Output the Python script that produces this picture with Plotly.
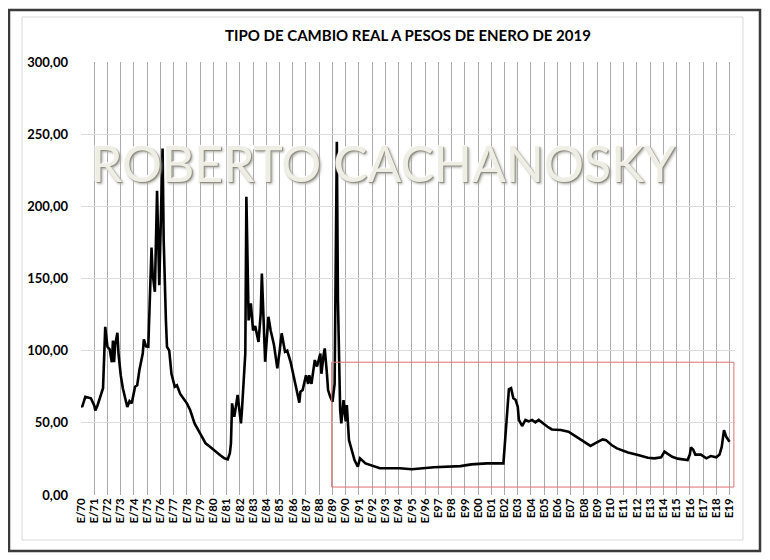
import plotly.graph_objects as go

# ---- data ----
dates = [
    "1970-01", "1970-02", "1970-05", "1970-10", "1971-01", "1971-02", "1971-04", "1971-07", "1971-09", "1971-11",
    "1972-01", "1972-03", "1972-05", "1972-06", "1972-07", "1972-08", "1972-10", "1972-11",
    "1973-01", "1973-03", "1973-05", "1973-07", "1973-09", "1973-11",
    "1974-02", "1974-04", "1974-06", "1974-09", "1974-10", "1974-12",
    "1975-02", "1975-05", "1975-06", "1975-08", "1975-10", "1975-12",
    "1976-03", "1976-04", "1976-06", "1976-07", "1976-09", "1976-11",
    "1977-02", "1977-04", "1977-07", "1977-11",
    "1978-01", "1978-04", "1978-08", "1979-01", "1979-06", "1979-10",
    "1980-03", "1980-07", "1980-11", "1981-02", "1981-04", "1981-05", "1981-06", "1981-08", "1981-09", "1981-11",
    "1982-02", "1982-03", "1982-06", "1982-07", "1982-09", "1982-11",
    "1983-01", "1983-03", "1983-06", "1983-08", "1983-09", "1983-12",
    "1984-03", "1984-05", "1984-08", "1984-11",
    "1985-01", "1985-03", "1985-06", "1985-08", "1985-11",
    "1986-02", "1986-05", "1986-07", "1986-08", "1986-10",
    "1987-01", "1987-03", "1987-04", "1987-06", "1987-09", "1987-11",
    "1988-02", "1988-03", "1988-05", "1988-06", "1988-08", "1988-09", "1988-11",
    "1989-01", "1989-03", "1989-05", "1989-06", "1989-08", "1989-09", "1989-11",
    "1990-01", "1990-02", "1990-04", "1990-07", "1990-09", "1990-12",
    "1991-02", "1991-07", "1992-03", "1992-08", "1994-02", "1995-01", "1996-09", "1998-09", "1999-07", "2000-09",
    "2001-12", "2002-02", "2002-05", "2002-07", "2002-09", "2002-11",
    "2003-01", "2003-02", "2003-05", "2003-08", "2003-11",
    "2004-02", "2004-05", "2004-08", "2004-11", "2005-04", "2005-08",
    "2006-04", "2006-11", "2007-04", "2007-10", "2008-03", "2008-07", "2008-11",
    "2009-06", "2009-09", "2010-02", "2010-07", "2011-05", "2012-02", "2012-11",
    "2013-05", "2013-11", "2014-02", "2014-05", "2014-09", "2015-02", "2015-11",
    "2016-01", "2016-02", "2016-04", "2016-06", "2016-11", "2017-04", "2017-08",
    "2018-01", "2018-04", "2018-06", "2018-08", "2018-10", "2019-01",
]
tcr = [
    62, 61, 68, 67, 62, 58.5, 62, 69, 74, 116.5,
    102.7, 101, 92, 107, 92, 104, 112.4, 98,
    83, 74, 68, 61, 65, 63.5,
    75, 76, 86.6, 98, 107.8, 103,
    102.7, 171.5, 153.5, 140.8, 210.7, 145.4,
    240, 176.6, 121, 102.7, 100, 84,
    75, 76, 70, 65.8,
    63.5, 58.9, 49.6, 42.7, 35.8, 33.5,
    30, 27.7, 25.4, 24.7, 28.9, 35.8, 63.5, 54.2, 59, 69.3,
    49.6, 59, 98, 206.6, 121, 132.7,
    114, 117, 106, 125.8, 153.5, 92.3,
    123.5, 114, 103.9, 87.7,
    99.2, 112, 99.2, 100, 92.3,
    82, 72.7, 64, 71.6, 72.7,
    83, 77, 83, 77, 93.5, 89,
    98, 84, 97, 101.6, 84, 72.7, 68,
    64.6, 77, 244.7, 135, 58.9, 49.6, 65.8,
    51, 62.3, 38, 28.9, 24.2, 19.6,
    25.4, 21.9, 19.6, 18.5, 18.5, 17.8, 19.2, 20, 21.2, 21.9,
    21.9, 41.5, 73.2, 74, 67, 66,
    61.2, 52, 47.8, 52, 51,
    52, 50.3, 52, 50, 47.3, 45.4,
    45, 43.9, 41.5, 38, 35.8, 34, 35.8,
    38.5, 38, 34.6, 32.3, 29.5, 27.7, 25.8,
    25.4, 26.1, 30, 28.5, 26.5, 25.2, 24.2,
    28, 33, 31.5, 28, 28, 25.4, 27,
    26.1, 28, 33.5, 45, 40.4, 36.9,
]
tick_years = list(range(1970, 2020))
tick_labels = ["E/%02d" % (y % 100) if y <= 1996 else "E%02d" % (y % 100) for y in tick_years]
y_ticks = [0, 50, 100, 150, 200, 250, 300]

title_text = "TIPO DE CAMBIO REAL A PESOS DE ENERO DE 2019"
watermark = "ROBERTO CACHANOSKY"

FONT = "Lato"

# plot area (screen pixels): x 81..735, y 62..495 ; page body adds 8px offset
W, H = 762, 552
L, T = 73, 54
PW, PH = 654, 433


def px(xs):
    return (xs - 81) / PW


def py(ys):
    return (495 - ys) / PH


fig = go.Figure()
fig.add_trace(go.Scatter(
    x=dates, y=tcr, mode="lines",
    line=dict(color="#000000", width=2.6),
    hoverinfo="x+y", showlegend=False,
))

shapes = [
    dict(type="rect", xref="x", yref="y",
         x0="1988-12-10", x1="2019-05-01", y0=5.5, y1=92,
         line=dict(color="#e07070", width=1), fillcolor="rgba(0,0,0,0)", layer="above"),
    dict(type="rect", xref="paper", yref="paper",
         x0=px(9), x1=px(760), y0=py(551), y1=py(10),
         line=dict(color="#3a3a3a", width=2.5)),
    dict(type="rect", xref="paper", yref="paper",
         x0=px(22), x1=px(743), y0=py(540), y1=py(17),
         line=dict(color="#d9d9d9", width=1)),
]

fig.add_annotation(
    x=px(383.5), y=py(163), xref="paper", yref="paper",
    xanchor="center", yanchor="middle",
    text=watermark, showarrow=False,
    font=dict(family=FONT, size=50, color="#efeee4",
              shadow="1px 1px 1px #8a8a80, -1px -1px 1px #ffffff, 2px 2px 3px #b0b0a8"),
)

fig.update_layout(
    width=W, height=H,
    margin=dict(l=L, r=W - L - PW, t=T, b=H - T - PH, autoexpand=False),
    paper_bgcolor="white", plot_bgcolor="white",
    separators=",.",
    shapes=shapes,
    title=dict(text="<b>" + title_text + "</b>", x=0.5, xref="paper", xanchor="center",
               y=1 - 28 / H, yanchor="middle",
               font=dict(family=FONT, size=15, color="#000000")),
    xaxis=dict(
        type="date", range=["1970-01-01", "2019-06-01"],
        tickmode="array",
        tickvals=["%d-01-01" % y for y in tick_years],
        ticktext=["<b>%s</b>" % t for t in tick_labels],
        tickangle=-90, tickfont=dict(family=FONT, size=11.5, color="#000000"),
        showgrid=True, gridcolor="#ababab", gridwidth=1,
        showline=False, zeroline=False, ticks="", automargin=False,
    ),
    yaxis=dict(
        range=[0, 300], tickmode="array", tickvals=y_ticks,
        tickformat=".2f",
        tickfont=dict(family=FONT, size=13, color="#000000", weight="bold"),
        showgrid=True, gridcolor="#dcdcdc", gridwidth=1,
        showline=False, zeroline=False, ticks="", ticklabelstandoff=12, automargin=False,
    ),
)

fig.write_html("out.html")
